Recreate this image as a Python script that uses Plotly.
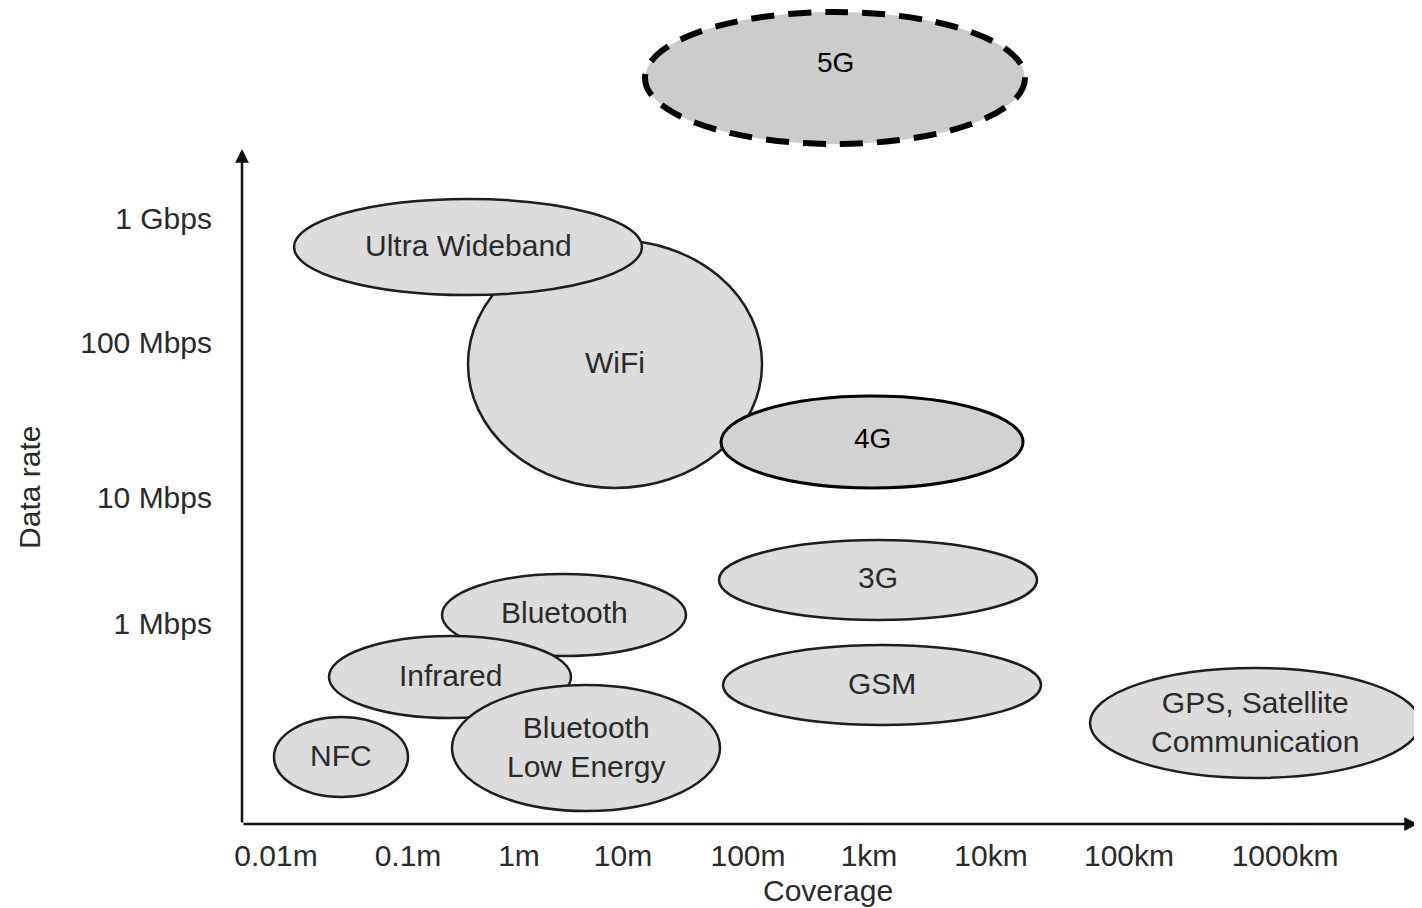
import plotly.graph_objects as go

# ---- data (axis units: x = position along coverage axis, y = position along data-rate axis) ----
coverage_ticks = ["0.01m", "0.1m", "1m", "10m", "100m", "1km", "10km", "100km", "1000km"]
coverage_tick_pos = [34, 166, 277, 381, 506, 627, 749, 887, 1043]
rate_ticks = ["1 Mbps", "10 Mbps", "100 Mbps", "1 Gbps"]
rate_tick_pos = [201, 327, 482, 606]

tech_names = ["WiFi", "Ultra Wideband", "4G", "3G", "Bluetooth", "Infrared",
              "Bluetooth<br>Low Energy", "NFC", "GSM", "GPS, Satellite<br>Communication", "5G"]
tech_cx = [373, 226, 630, 636, 322, 208, 344, 99, 640, 1013, 593]
tech_cy = [460, 577, 382, 244, 209, 147, 76, 67, 139, 101, 746]
tech_rx = [147, 174, 151, 159, 122, 121, 134, 67, 159, 165, 190]
tech_ry = [124, 48, 46, 40, 41, 41, 63, 40, 40, 55, 66]
label_dy = [2, 2, 4, 3, 3, 2, 1, 2, 2, 1, 16]

FONT = "Liberation Sans, Arial, sans-serif"
FS = 30

fig = go.Figure()
# invisible trace so the axes exist
fig.add_trace(go.Scatter(x=[0, 1180], y=[0, 816], mode="markers",
                         marker=dict(opacity=0), hoverinfo="skip", showlegend=False))

shapes = []
annotations = []
for name, cx, cy, rx, ry, dy in zip(tech_names, tech_cx, tech_cy, tech_rx, tech_ry, label_dy):
    if name == "5G":
        line = dict(color="black", width=6, dash="23px,14px")
        fill = "#cccccc"
        tcol = "#000000"
        fs = 28
    elif name == "4G":
        line = dict(color="black", width=3)
        fill = "#d2d2d2"
        tcol = "#000000"
        fs = 28
    else:
        line = dict(color="#1e1e1e", width=2.5)
        fill = "#dcdcdc"
        tcol = "#2a2a2a"
        fs = FS
    shapes.append(dict(type="circle", xref="x", yref="y",
                       x0=cx - rx, x1=cx + rx, y0=cy - ry, y1=cy + ry,
                       fillcolor=fill, line=line, layer="above"))
    annotations.append(dict(x=cx, y=cy + dy, xref="x", yref="y", text=name,
                            showarrow=False, font=dict(family=FONT, size=fs, color=tcol)))

# axis arrows
annotations.append(dict(x=1176, y=0, ax=0, ay=0, xref="x", yref="y", axref="x", ayref="y",
                        text="", showarrow=True, arrowhead=2, arrowsize=1.1, arrowwidth=2.5,
                        arrowcolor="#111111"))
annotations.append(dict(x=0, y=675, ax=0, ay=0, xref="x", yref="y", axref="x", ayref="y",
                        text="", showarrow=True, arrowhead=2, arrowsize=1.1, arrowwidth=2.5,
                        arrowcolor="#111111"))
# axis titles
annotations.append(dict(x=0.4966, y=-0.0809, xref="paper", yref="paper", text="Coverage",
                        xanchor="center", yanchor="middle",
                        showarrow=False, font=dict(family=FONT, size=FS, color="#2a2a2a")))
annotations.append(dict(x=-0.1797, y=0.413, xref="paper", yref="paper", text="Data rate",
                        xanchor="center", yanchor="middle",
                        showarrow=False, textangle=-90,
                        font=dict(family=FONT, size=FS, color="#2a2a2a")))

fig.update_layout(
    width=1414, height=900,
    margin=dict(l=234, r=0, t=0, b=84),
    paper_bgcolor="white", plot_bgcolor="white",
    shapes=shapes, annotations=annotations, showlegend=False,
    xaxis=dict(range=[0, 1180], tickvals=coverage_tick_pos, ticktext=coverage_ticks,
               showgrid=False, zeroline=False, showline=False, ticks="",
               ticklabelstandoff=11, tickfont=dict(family=FONT, size=FS, color="#2a2a2a"),
               fixedrange=True),
    yaxis=dict(range=[0, 816], tickvals=rate_tick_pos, ticktext=rate_ticks,
               showgrid=False, zeroline=False, showline=False, ticks="",
               ticklabelstandoff=29, tickfont=dict(family=FONT, size=FS, color="#2a2a2a"),
               fixedrange=True),
)

fig.write_html("out.html")
